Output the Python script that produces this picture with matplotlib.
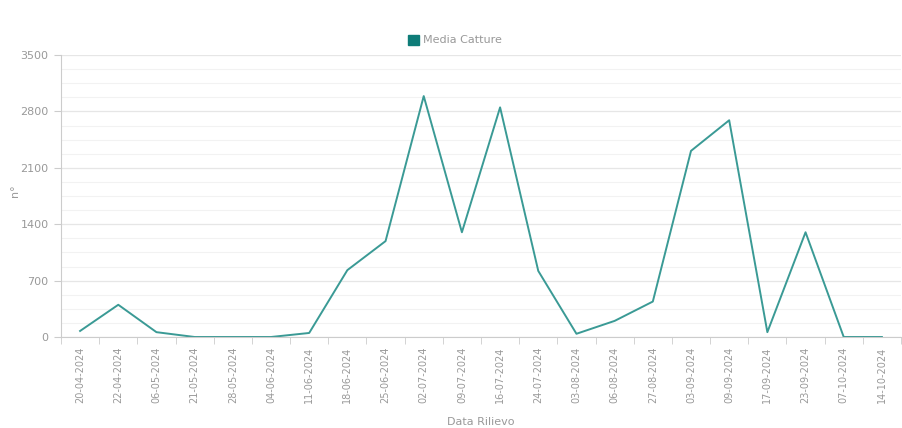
import matplotlib.pyplot as plt
import numpy as np

date = ['20-04-2024', '22-04-2024', '06-05-2024', '21-05-2024', '28-05-2024',
        '04-06-2024', '11-06-2024', '18-06-2024', '25-06-2024', '02-07-2024',
        '09-07-2024', '16-07-2024', '24-07-2024', '03-08-2024', '06-08-2024',
        '27-08-2024', '03-09-2024', '09-09-2024', '17-09-2024', '23-09-2024',
        '07-10-2024', '14-10-2024']
catture = [75, 400, 60, 0, 0, 0, 50, 830, 1190, 2990, 1300, 2850, 820, 40,
           200, 440, 2310, 2690, 60, 1300, 0, 0]

grigio = '#999999'
linea = '#3a9a95'

fig = plt.figure(figsize=(9.02, 4.28), dpi=100)
ax = fig.add_axes([61 / 902, (428 - 337) / 428, 840 / 902, 282 / 428])

x = np.arange(len(date))
ax.plot(x, catture, color=linea, lw=1.4, label='Media Catture')

ax.set_xlim(-0.5, len(date) - 0.5)
ax.set_ylim(0, 3500)

# griglia: linee fini ogni 175, piu marcate ogni 700
ax.set_yticks(np.arange(0, 3501, 700))
ax.set_yticks(np.arange(0, 3501, 175), minor=True)
ax.grid(axis='y', which='major', color='#e6e6e6', lw=0.9)
ax.grid(axis='y', which='minor', color='#f2f2f2', lw=0.8)
ax.set_axisbelow(True)

ax.set_xticks(x)
ax.set_xticklabels(date, rotation=90, fontsize=7, color=grigio)
ax.set_xticks(np.arange(-0.5, len(date), 1), minor=True)
ax.tick_params(axis='x', which='major', length=0, pad=7)
ax.tick_params(axis='x', which='minor', length=5, color='#cccccc')
ax.tick_params(axis='y', which='major', length=5, color='#cccccc',
               labelsize=8, labelcolor=grigio, pad=4)
ax.tick_params(axis='y', which='minor', length=0)

for s in ['top', 'right']:
    ax.spines[s].set_visible(False)
for s in ['left', 'bottom']:
    ax.spines[s].set_color('#cccccc')
    ax.spines[s].set_linewidth(0.8)

ax.set_ylabel('n°', fontsize=8, color=grigio)
ax.yaxis.set_label_coords(-41 / 840, 0.52)
ax.set_xlabel('Data Rilievo', fontsize=8, color=grigio, labelpad=10)

h = plt.Rectangle((0, 0), 1, 1, color='#0e7c78')
fig.legend([h], ['Media Catture'], loc='center', bbox_to_anchor=(455 / 902, 1 - 40 / 428),
           frameon=False, fontsize=8, labelcolor=grigio, handlelength=1, handleheight=1,
           handletextpad=0.4)

plt.savefig('out.png', dpi=100)
